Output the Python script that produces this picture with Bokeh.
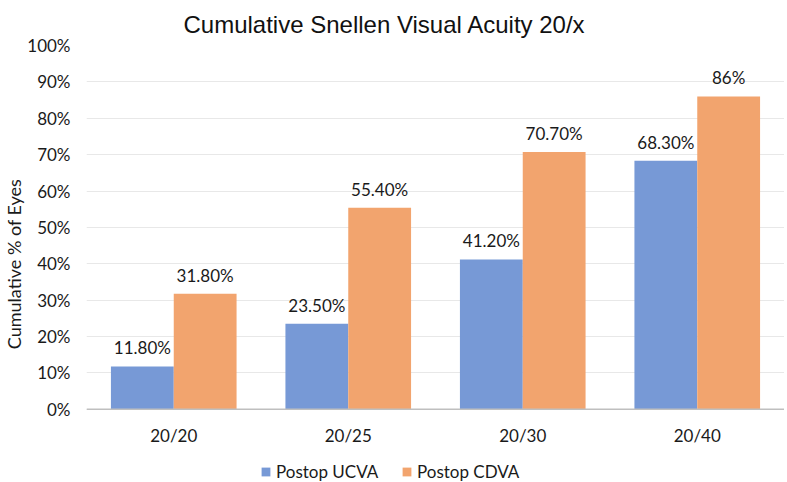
from bokeh.plotting import figure
from bokeh.models import (ColumnDataSource, FactorRange, Range1d, Legend, LegendItem,
                          PrintfTickFormatter, FixedTicker, LabelSet, Span, Title)
from bokeh.core.properties import value
from bokeh.transform import dodge
from bokeh.embed import file_html
from bokeh.resources import INLINE

categories = ["20/20", "20/25", "20/30", "20/40"]
ucva = [11.8, 23.5, 41.2, 68.3]
cdva = [31.8, 55.4, 70.7, 86.0]
ucva_labels = ["11.80%", "23.50%", "41.20%", "68.30%"]
cdva_labels = ["31.80%", "55.40%", "70.70%", "86%"]
y_ticks = [0, 10, 20, 30, 40, 50, 60, 70, 80, 90, 100]

src = ColumnDataSource(dict(cat=categories, ucva=ucva, cdva=cdva,
                            ul=ucva_labels, cl=cdva_labels))

FONT = "Lato"

# frame extends below the 0% baseline to hold the category labels and the legend
p = figure(x_range=FactorRange(*categories, range_padding=0),
           y_range=Range1d(-20.1, 100),
           frame_width=698, frame_height=437, output_backend="svg", toolbar_location=None,
           title="Cumulative Snellen Visual Acuity 20/x",
           min_border_left=81, min_border_right=0, min_border_top=0, min_border_bottom=0)
p.outline_line_color = None
p.xaxis.visible = False

bw = 0.36
r1 = p.vbar(x=dodge("cat", -bw / 2, range=p.x_range), top="ucva", width=bw, source=src,
            fill_color="#7799D6", line_color=None)
r2 = p.vbar(x=dodge("cat", bw / 2, range=p.x_range), top="cdva", width=bw, source=src,
            fill_color="#F2A46E", line_color=None)

for col, lab, off in (("ucva", "ul", -bw / 2), ("cdva", "cl", bw / 2)):
    ls = LabelSet(x=dodge("cat", off, range=p.x_range), y=col, text=lab, source=src,
                  text_align="center", text_baseline="bottom", y_offset=8,
                  text_font=value(FONT), text_font_size=value("17px"), text_color="#1a1a1a")
    p.add_layout(ls)

# category labels under the baseline
cat_labels = LabelSet(x="cat", y=0, text="cat", source=src, text_align="center",
                      text_baseline="middle", y_offset=-26,
                      text_font=value(FONT), text_font_size=value("17px"), text_color="#1a1a1a")
p.add_layout(cat_labels)
p.add_layout(Span(location=0, dimension="width", line_color="#BFBFBF", line_width=1.5))

p.title.align = "left"
p.title.offset = 97
p.title.text_font = "Liberation Sans"
p.title.text_font_size = "24px"
p.title.text_font_style = "normal"
p.title.text_color = "#111111"
p.title.standoff = 16

p.yaxis.ticker = FixedTicker(ticks=y_ticks)
p.yaxis.formatter = PrintfTickFormatter(format="%d%%")
p.yaxis.axis_line_color = None
p.yaxis.major_tick_line_color = None
p.yaxis.minor_tick_line_color = None
p.yaxis.major_tick_out = 0
p.yaxis.major_tick_in = 0
p.yaxis.major_label_text_font = FONT
p.yaxis.major_label_text_font_size = "17px"
p.yaxis.major_label_text_color = "#1a1a1a"
p.yaxis.major_label_standoff = 16

ylab = Title(text="Cumulative % of Eyes", align="center", offset=31,
             text_font=FONT, text_font_size="18px", text_font_style="normal",
             text_color="#1a1a1a", standoff=0)
p.add_layout(ylab, "left")

p.xgrid.grid_line_color = None
p.ygrid.grid_line_color = "#E8E8E8"
p.ygrid.grid_line_width = 1

legend = Legend(items=[LegendItem(label="Postop UCVA", renderers=[r1]),
                       LegendItem(label="Postop CDVA", renderers=[r2])],
                orientation="horizontal", location=(174, 0),
                label_text_font=FONT, label_text_font_size="17px", label_text_color="#1a1a1a",
                label_height=20, label_width=125, glyph_width=11, glyph_height=11,
                spacing=0, label_standoff=5,
                border_line_color=None, background_fill_alpha=0, margin=0, padding=0)
p.add_layout(legend, "center")

open("out.html", "w").write(file_html(p, INLINE))
